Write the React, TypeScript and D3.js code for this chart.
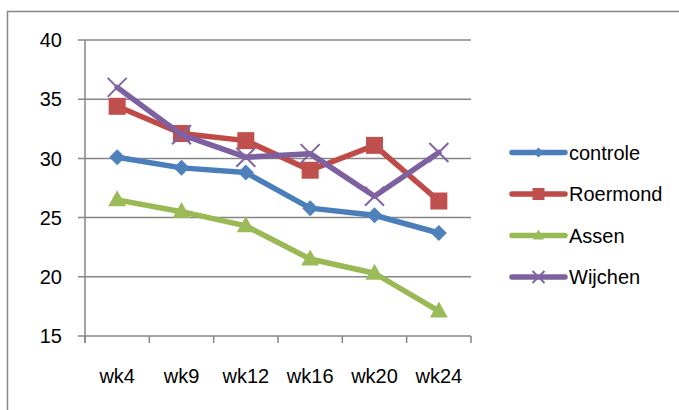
import React, { useEffect, useRef } from 'react';
import * as d3 from 'd3';

const weeks = ['wk4', 'wk9', 'wk12', 'wk16', 'wk20', 'wk24'];
const controle = [30.1, 29.2, 28.8, 25.8, 25.2, 23.7];
const roermond = [34.4, 32.1, 31.5, 29.0, 31.1, 26.4];
const assen = [26.5, 25.5, 24.3, 21.5, 20.3, 17.1];
const wijchen = [36.0, 32.0, 30.1, 30.4, 26.8, 30.5];
const yTicks = [15, 20, 25, 30, 35, 40];

const seriesList = [
  { name: 'controle', values: controle, line: '#4A7EBB', fill: '#4F81BD', marker: 'diamond' },
  { name: 'Roermond', values: roermond, line: '#BE4B48', fill: '#C0504D', marker: 'square' },
  { name: 'Assen', values: assen, line: '#98B954', fill: '#9BBB59', marker: 'triangle' },
  { name: 'Wijchen', values: wijchen, line: '#7D60A0', fill: '#8064A2', marker: 'cross' },
];

const W = 679;
const H = 410;
const FONT = '"Liberation Sans", Arial, sans-serif';
const FS = 20;

export default function App() {
  const ref = useRef<SVGSVGElement>(null);

  useEffect(() => {
    if (!ref.current) return;
    const svg = d3.select(ref.current);
    svg.selectAll('*').remove();

    // outer chart border (only top/left visible)
    svg.append('rect')
      .attr('x', 7.5).attr('y', 11.5)
      .attr('width', W + 20).attr('height', H + 20)
      .attr('fill', '#fff').attr('stroke', '#868686').attr('stroke-width', 1.5);

    const x = d3.scaleBand().domain(weeks).range([85, 471]);
    const y = d3.scaleLinear().domain([15, 40]).range([336, 40]);

    const grid = svg.append('g');
    // gridlines
    grid.selectAll('line.g')
      .data(yTicks.filter(t => t > 15))
      .join('line')
      .attr('x1', 78).attr('x2', 471)
      .attr('y1', d => y(d)).attr('y2', d => y(d))
      .attr('stroke', '#868686').attr('stroke-width', 1.5);

    // x axis
    grid.append('line')
      .attr('x1', 78).attr('x2', 471)
      .attr('y1', y(15)).attr('y2', y(15))
      .attr('stroke', '#868686').attr('stroke-width', 1.5);
    // y axis
    grid.append('line')
      .attr('x1', 85).attr('x2', 85)
      .attr('y1', y(40)).attr('y2', y(15) + 7)
      .attr('stroke', '#868686').attr('stroke-width', 1.5);
    // category ticks
    const tickXs = weeks.map(w => (x(w) as number) + x.bandwidth()).concat([85]);
    grid.selectAll('line.t')
      .data(tickXs)
      .join('line')
      .attr('x1', d => d).attr('x2', d => d)
      .attr('y1', y(15)).attr('y2', y(15) + 7)
      .attr('stroke', '#868686').attr('stroke-width', 1.5);

    // y labels
    svg.append('g').selectAll('text')
      .data(yTicks)
      .join('text')
      .attr('x', 62).attr('y', d => y(d))
      .attr('dy', '0.36em')
      .attr('text-anchor', 'end')
      .attr('font-family', FONT).attr('font-size', FS)
      .attr('fill', '#000')
      .text(d => d);

    // x labels
    svg.append('g').selectAll('text')
      .data(weeks)
      .join('text')
      .attr('x', d => (x(d) as number) + x.bandwidth() / 2)
      .attr('y', 383)
      .attr('text-anchor', 'middle')
      .attr('font-family', FONT).attr('font-size', FS)
      .attr('fill', '#000')
      .text(d => d);

    const drawMarker = (g: any, kind: string, cx: number, cy: number, fill: string, small = false) => {
      if (kind === 'diamond') {
        const r = small ? 5 : 8;
        g.append('path')
          .attr('d', `M${cx},${cy - r}L${cx + r},${cy}L${cx},${cy + r}L${cx - r},${cy}Z`)
          .attr('fill', fill);
      } else if (kind === 'square') {
        const s = small ? 12 : 17;
        g.append('rect')
          .attr('x', cx - s / 2).attr('y', cy - s / 2)
          .attr('width', s).attr('height', s)
          .attr('fill', fill);
      } else if (kind === 'triangle') {
        const w = small ? 11 : 18;
        const h = small ? 10 : 16;
        g.append('path')
          .attr('d', `M${cx},${cy - h * 0.6}L${cx + w / 2},${cy + h * 0.4}L${cx - w / 2},${cy + h * 0.4}Z`)
          .attr('fill', fill);
      } else {
        const r = small ? 6 : 9.5;
        g.append('path')
          .attr('d', `M${cx - r},${cy - r}L${cx + r},${cy + r}M${cx - r},${cy + r}L${cx + r},${cy - r}`)
          .attr('stroke', fill).attr('stroke-width', 2).attr('fill', 'none');
      }
    };

    const line = d3.line<number>()
      .x((_, i) => (x(weeks[i]) as number) + x.bandwidth() / 2)
      .y(d => y(d));

    seriesList.forEach(s => {
      const g = svg.append('g');
      g.append('path')
        .attr('d', line(s.values))
        .attr('fill', 'none')
        .attr('stroke', s.line)
        .attr('stroke-width', 5.5)
        .attr('stroke-linejoin', 'round')
        .attr('stroke-linecap', 'round');
      s.values.forEach((v, i) => {
        drawMarker(g, s.marker, (x(weeks[i]) as number) + x.bandwidth() / 2, y(v), s.fill);
      });
    });

    // legend
    const legend = svg.append('g');
    seriesList.forEach((s, i) => {
      const ly = 152.5 + i * 41.5;
      legend.append('line')
        .attr('x1', 512).attr('x2', 565)
        .attr('y1', ly).attr('y2', ly)
        .attr('stroke', s.line).attr('stroke-width', 5.5)
        .attr('stroke-linecap', 'round');
      drawMarker(legend, s.marker, 538.5, ly, s.fill, true);
      legend.append('text')
        .attr('x', 569).attr('y', ly)
        .attr('dy', '0.36em')
        .attr('font-family', FONT).attr('font-size', FS)
        .attr('fill', '#000')
        .text(s.name);
    });
  }, []);

  return (
    <svg
      ref={ref}
      width={W}
      height={H}
      style={{ position: 'absolute', left: 0, top: 0, display: 'block', background: '#fff' }}
    />
  );
}
